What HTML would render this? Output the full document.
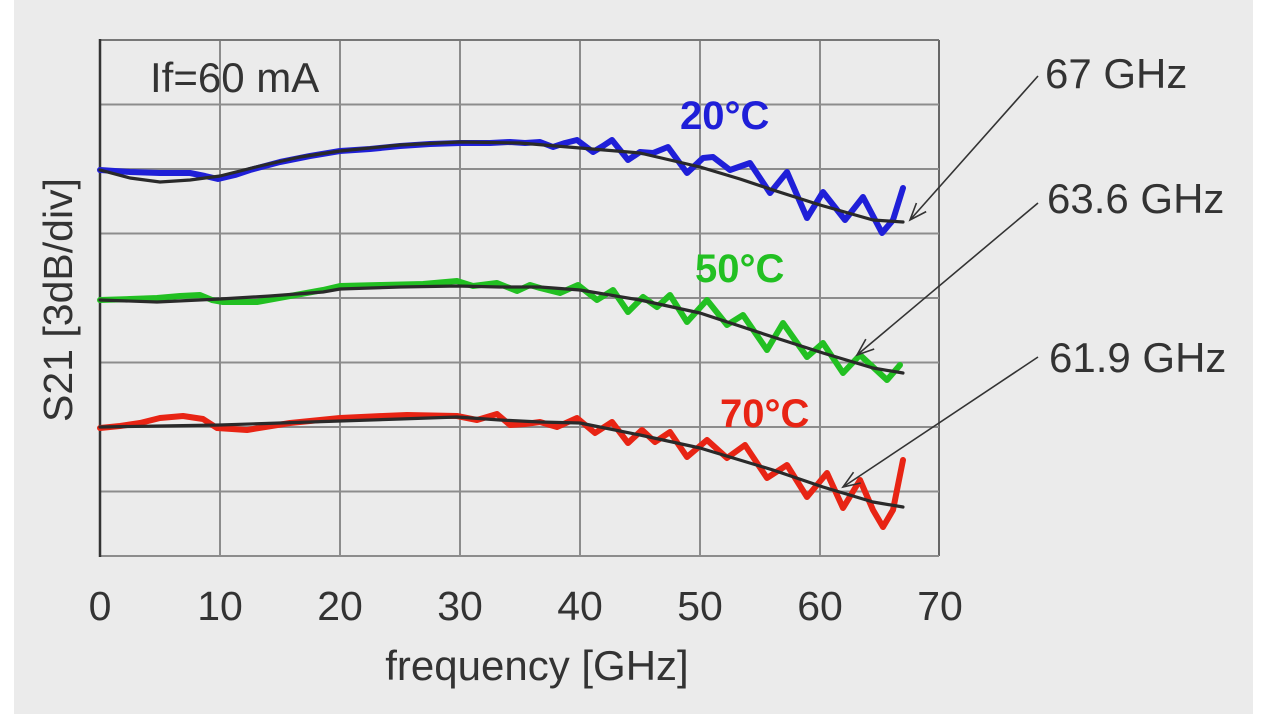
<!DOCTYPE html>
<html>
<head>
<meta charset="utf-8">
<style>
html,body{margin:0;padding:0;background:#fff;}
svg{display:block;}
text{font-family:"Liberation Sans",Arial,sans-serif;}
</style>
</head>
<body>
<svg width="1268" height="714" viewBox="0 0 1268 714" xmlns="http://www.w3.org/2000/svg">
<defs>
<marker id="ah" markerWidth="22" markerHeight="16" refX="19" refY="8" orient="auto" markerUnits="userSpaceOnUse">
<path d="M2,1.5 L19,8 L2,14.5" fill="none" stroke="#333" stroke-width="1.6"/>
</marker>
</defs>
<rect x="0" y="0" width="1268" height="714" fill="#ffffff"/>
<rect x="14" y="0" width="1239" height="714" fill="#ebebeb"/>

<!-- grid -->
<g stroke="#8c8c8c" stroke-width="2" fill="none">
<line x1="220" y1="40" x2="220" y2="556"/>
<line x1="340" y1="40" x2="340" y2="556"/>
<line x1="460" y1="40" x2="460" y2="556"/>
<line x1="580" y1="40" x2="580" y2="556"/>
<line x1="700" y1="40" x2="700" y2="556"/>
<line x1="820" y1="40" x2="820" y2="556"/>
<line x1="939" y1="40" x2="939" y2="556" stroke="#666"/>
<line x1="100" y1="40" x2="939" y2="40" stroke="#777"/>
<line x1="100" y1="104.5" x2="939" y2="104.5"/>
<line x1="100" y1="169" x2="939" y2="169"/>
<line x1="100" y1="233.5" x2="939" y2="233.5"/>
<line x1="100" y1="298" x2="939" y2="298"/>
<line x1="100" y1="362.5" x2="939" y2="362.5"/>
<line x1="100" y1="427" x2="939" y2="427"/>
<line x1="100" y1="491.5" x2="939" y2="491.5"/>
<line x1="100" y1="556" x2="939" y2="556"/>
</g>
<line x1="100" y1="39" x2="100" y2="557" stroke="#333" stroke-width="2.5"/>

<!-- measured curves -->
<g fill="none" stroke-linejoin="round" stroke-linecap="round" stroke-width="6">
<polyline stroke="#1f1fd8" points="100,170 130,172 160,173 190,173 205,176 218,179 235,175 250,170 280,162 310,156 340,151 370,149 400,146 430,144 460,143 490,143 510,142 525,143 540,142 553,147 565,143 577,140 593,152 603,146 612,140 628,160 640,152 653,153 668,147 687,173 703,158 713,157 730,170 750,163 770,193 787,172 807,218 823,192 845,220 863,197 882,233 893,220 903,188"/>
<polyline stroke="#22c022" points="100,300 130,299 157,298 180,296 200,295 212,300 223,302 257,302 290,296 323,290 340,286 380,285 423,284 457,281 473,286 497,283 517,291 530,285 540,288 560,293 578,285 597,300 613,290 628,312 643,297 657,307 670,295 687,322 707,300 727,325 743,315 767,350 783,323 807,357 823,343 843,373 860,355 887,380 900,365"/>
<polyline stroke="#e82414" points="100,428 120,426 140,423 160,418 183,416 203,419 217,428 247,430 290,423 340,418 383,416 407,415 457,416 477,420 497,414 510,425 525,424 540,422 557,427 577,418 595,433 612,422 628,443 642,430 655,442 670,432 687,457 707,440 727,458 745,445 767,478 787,465 807,497 827,473 843,508 860,480 873,510 883,527 893,510 903,460"/>
</g>

<!-- fits -->
<g fill="none" stroke="#2a2a2a" stroke-width="3.2" stroke-linejoin="round" stroke-linecap="round">
<polyline points="100,170 130,178 160,182 190,180 220,176 260,166 300,157 340,151 400,145 460,142 520,143 580,148 640,153 700,167 740,179 773,190 820,205 873,220 903,222"/>
<polyline points="100,300 157,302 220,299 270,296 323,292 340,289 400,287 457,286 500,287 540,287 580,290 640,300 700,313 773,337 823,353 873,368 903,373"/>
<polyline points="100,427 160,426 220,425 280,423 340,421 400,419 457,417 500,420 540,422 580,423 640,435 700,448 773,470 823,487 873,502 903,507"/>
</g>

<!-- arrows -->
<g stroke="#333" stroke-width="1.6" fill="none">
<line x1="1038" y1="76" x2="910" y2="220" marker-end="url(#ah)"/>
<line x1="1038" y1="203" x2="857" y2="355" marker-end="url(#ah)"/>
<line x1="1038" y1="357" x2="843" y2="487" marker-end="url(#ah)"/>
</g>

<!-- labels -->
<g fill="#333" font-size="42">
<text x="150" y="92">If=60 mA</text>
<text x="1045" y="88">67 GHz</text>
<text x="1047" y="213">63.6 GHz</text>
<text x="1049" y="372">61.9 GHz</text>
</g>
<g font-size="40" font-weight="bold">
<text x="680" y="129" fill="#1f1fd8">20°C</text>
<text x="695" y="282" fill="#22c022">50°C</text>
<text x="720" y="427" fill="#e82414">70°C</text>
</g>
<g fill="#333" font-size="41" text-anchor="middle">
<text x="100" y="620">0</text>
<text x="220" y="620">10</text>
<text x="340" y="620">20</text>
<text x="460" y="620">30</text>
<text x="580" y="620">40</text>
<text x="700" y="620">50</text>
<text x="820" y="620">60</text>
<text x="940" y="620">70</text>
<text x="537" y="680" font-size="42">frequency [GHz]</text>
<text x="0" y="0" font-size="41" transform="translate(72,300) rotate(-90)">S21 [3dB/div]</text>
</g>
</svg>
</body>
</html>
